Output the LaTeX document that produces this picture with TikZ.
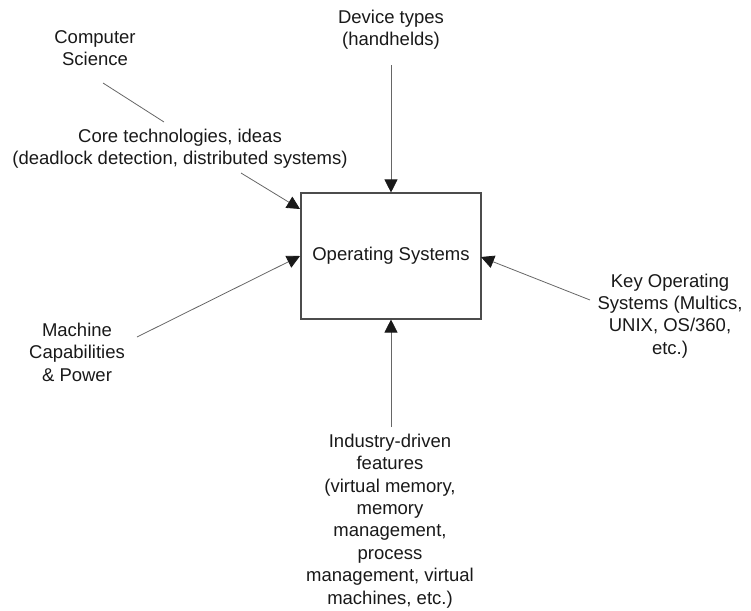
\documentclass[tikz,border=0pt]{standalone}
\usepackage{fontspec}
\setmainfont{Liberation Sans}
\usetikzlibrary{arrows.meta}
\begin{document}
\begin{tikzpicture}[x=1pt,y=-1pt,
  label/.style={align=center,inner sep=0pt,text=black!90,
    font=\fontsize{18.5}{22.4}\selectfont},
  osbox/.style={draw=black!70,line width=1.1pt,minimum width=180pt,
    minimum height=126pt,inner sep=0pt,text=black!90,
    font=\fontsize{18.5}{22.4}\selectfont},
  link/.style={draw=black!60,line width=0.8pt},
  feed/.style={link,-{Triangle[length=13pt,width=13pt,color=black!90]}}]
  \useasboundingbox (0,0) rectangle (751,610);

  % central box
  \node[osbox] (os) at (391,256) {Operating Systems};

  % influence labels
  \node[label] (cs)   at (95,48)   {Computer\\Science};
  \node[label] (dev)  at (391,30)  {Device types\\(handhelds)};
  \node[label] (core) at (180,149) {Core technologies, ideas\\(deadlock detection, distributed systems)};
  \node[label] (mach) at (77,352)  {Machine\\Capabilities\\\& Power};
  \node[label] (key)  at (670,316) {Key Operating\\Systems (Multics,\\UNIX, OS/360,\\etc.)};
  \node[label] (ind)  at (390,521) {Industry-driven\\features\\(virtual memory,\\memory\\management,\\process\\management, virtual\\machines, etc.)};

  % connector ends
  \coordinate (csA)   at (103,83);
  \coordinate (csB)   at (164,122);
  \coordinate (coreA) at (241,173);
  \coordinate (coreB) at (300,209);
  \coordinate (devA)  at (391,65);
  \coordinate (machA) at (137,337);
  \coordinate (machB) at (300,256);
  \coordinate (keyA)  at (590,300);
  \coordinate (keyB)  at (481,257);
  \coordinate (indA)  at (391,427);

  % connectors
  \draw[link] (csA) -- (csB);
  \draw[feed] (coreA) -- (coreB);
  \draw[feed] (devA) -- (os.north);
  \draw[feed] (machA) -- (machB);
  \draw[feed] (keyA) -- (keyB);
  \draw[feed] (indA) -- (os.south);
\end{tikzpicture}
\end{document}
